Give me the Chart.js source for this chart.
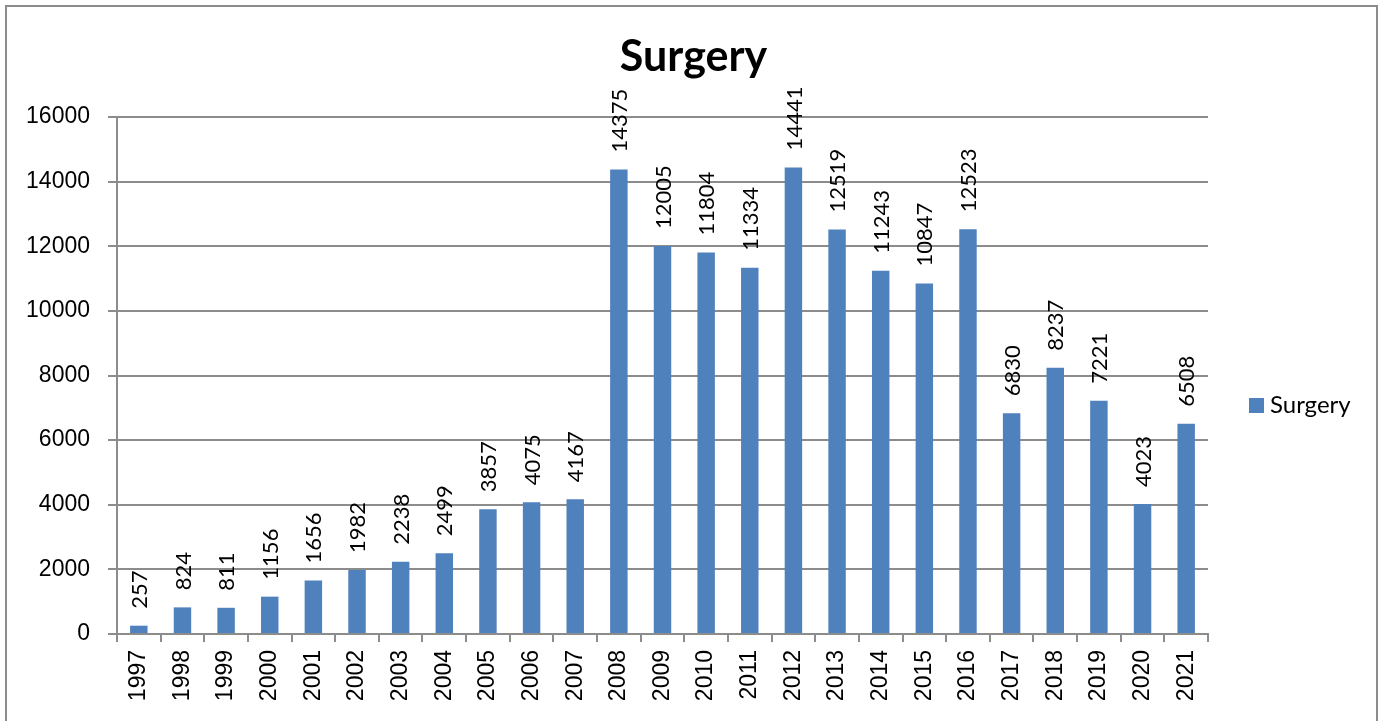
<!DOCTYPE html>
<html>
<head>
<meta charset="utf-8">
<script src="https://cdn.jsdelivr.net/npm/chart.js@4/dist/chart.umd.min.js"></script>
<style>
  html, body { margin: 0; padding: 0; background: #fff; }
  #wrap { position: relative; width: 1385px; height: 721px; overflow: hidden; }
  #frame { position: absolute; left: 5px; top: 5px; width: 1373px; height: 730px; border: 2px solid #8c8c8c; box-sizing: border-box; pointer-events: none; }
  canvas { position: absolute; left: 0; top: 0; }
</style>
</head>
<body>
<div id="wrap">
  <canvas id="c" width="1385" height="721"></canvas>
  <div id="frame"></div>
</div>
<script>
const years = ['1997','1998','1999','2000','2001','2002','2003','2004','2005','2006','2007','2008','2009','2010','2011','2012','2013','2014','2015','2016','2017','2018','2019','2020','2021'];
const surgery = [257,824,811,1156,1656,1982,2238,2499,3857,4075,4167,14375,12005,11804,11334,14441,12519,11243,10847,12523,6830,8237,7221,4023,6508];
const seriesName = 'Surgery';
const chartTitle = 'Surgery';
const yTicks = [0,2000,4000,6000,8000,10000,12000,14000,16000];

const barColor = '#4F81BD';
const gridColor = '#8c8c8c';

const extras = {
  id: 'extras',
  afterDatasetsDraw(chart) {
    const ctx = chart.ctx;
    const meta = chart.getDatasetMeta(0);
    const data = chart.data.datasets[0].data;
    ctx.save();
    ctx.fillStyle = '#000';
    ctx.font = '22px Lato';
    ctx.textAlign = 'left';
    ctx.textBaseline = 'middle';
    meta.data.forEach((bar, i) => {
      ctx.save();
      ctx.translate(bar.x + 1, bar.y - 17);
      ctx.rotate(-Math.PI / 2);
      ctx.fillText(String(data[i]), 0, 0);
      ctx.restore();
    });
    ctx.restore();
  },
  afterDraw(chart) {
    const ctx = chart.ctx;
    ctx.save();
    ctx.fillStyle = '#000';
    ctx.font = 'bold 43px Lato';
    ctx.textAlign = 'center';
    ctx.textBaseline = 'middle';
    ctx.fillText(chartTitle, chart.width / 2 + 1, 57);
    const ds = chart.data.datasets[0];
    ctx.fillStyle = ds.backgroundColor;
    ctx.fillRect(1249, 398, 15, 15);
    ctx.fillStyle = '#000';
    ctx.font = '24px Lato';
    ctx.textAlign = 'left';
    ctx.textBaseline = 'middle';
    ctx.fillText(ds.label, 1270, 405);
    ctx.restore();
  }
};

new Chart(document.getElementById('c'), {
  type: 'bar',
  data: {
    labels: years,
    datasets: [{
      label: seriesName,
      data: surgery,
      backgroundColor: barColor,
      borderWidth: 0,
      categoryPercentage: 1.0,
      barPercentage: 0.4
    }]
  },
  options: {
    responsive: false,
    animation: false,
    devicePixelRatio: 1,
    layout: { padding: { left: 0, right: 177, top: 117, bottom: 0 } },
    plugins: {
      legend: { display: false },
      title: { display: false },
      tooltip: { enabled: false }
    },
    scales: {
      x: {
        afterFit(s) { s.height = 87; },
        grid: { display: true, drawOnChartArea: false, drawTicks: true, tickLength: 8, color: gridColor, lineWidth: 2, offset: true },
        border: { display: true, color: gridColor, width: 2 },
        ticks: {
          color: '#000',
          font: { family: 'Liberation Sans', size: 23 },
          maxRotation: 90, minRotation: 90, padding: 8, autoSkip: false
        }
      },
      y: {
        min: 0, max: 16000,
        afterFit(s) { s.width = 117; },
        afterBuildTicks(s) { s.ticks = yTicks.map(v => ({ value: v })); },
        grid: { color: gridColor, lineWidth: 2, tickLength: 9, drawTicks: true },
        border: { display: true, color: gridColor, width: 2 },
        ticks: {
          color: '#000',
          font: { family: 'Liberation Sans', size: 23 },
          padding: 18,
          callback: v => String(v)
        }
      }
    }
  },
  plugins: [extras]
});
</script>
</body>
</html>
